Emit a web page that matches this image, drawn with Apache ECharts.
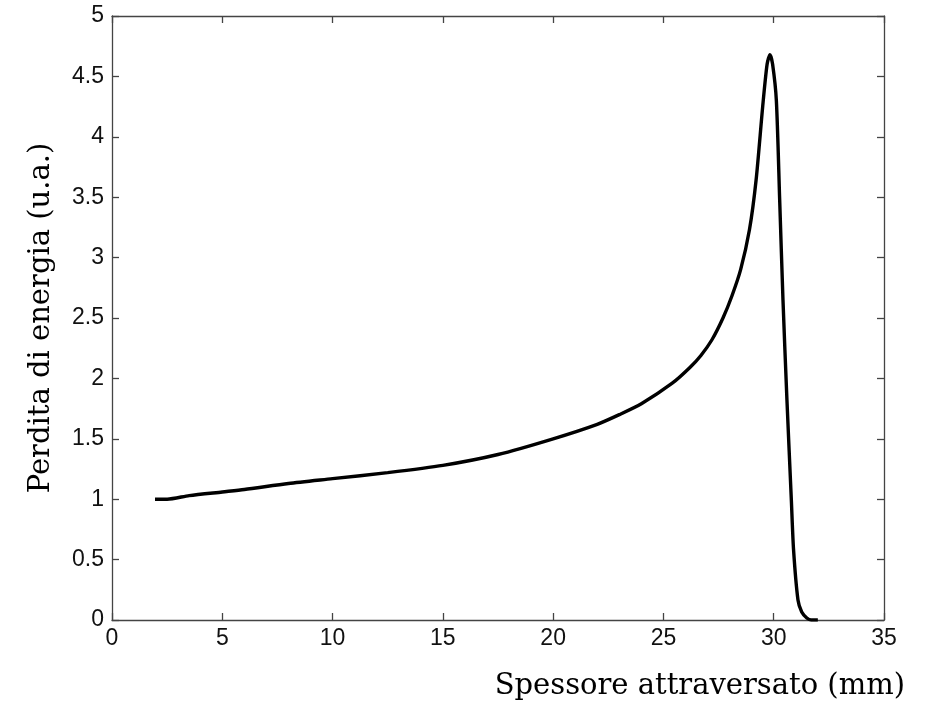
<!DOCTYPE html>
<html>
<head>
<meta charset="utf-8">
<script src="https://cdn.jsdelivr.net/npm/echarts@6/dist/echarts.min.js"></script>
<style>
  html, body { margin: 0; padding: 0; background: #fff; }
  #main { width: 925px; height: 708px; }
</style>
</head>
<body>
<div id="main"></div>
<script>
// spessore (mm) e perdita di energia (u.a.)
const thickness = [1.95, 2.5, 3.5, 5, 6, 8, 10, 12.5, 15, 17.5, 20, 22, 23, 24, 25.4, 26.2, 26.7, 27.2, 27.7, 28.1, 28.5, 28.9, 29.2, 29.5, 29.7, 29.83, 29.95, 30.12, 30.27, 30.42, 30.6, 30.8, 30.9, 31.1, 31.27, 31.5, 31.7, 32.0];
const energyLoss = [1.0, 1.0, 1.03, 1.06, 1.08, 1.13, 1.17, 1.22, 1.28, 1.37, 1.5, 1.62, 1.7, 1.79, 1.96, 2.09, 2.19, 2.32, 2.5, 2.68, 2.9, 3.23, 3.64, 4.25, 4.6, 4.68, 4.6, 4.3, 3.48, 2.65, 1.82, 0.99, 0.58, 0.165, 0.066, 0.017, 0.0, 0.0];
const xTicks = { min: 0, max: 35, step: 5 };
const yTicks = { min: 0, max: 5, step: 0.5 };

const points = thickness.map((x, i) => [x, energyLoss[i]]);

const chart = echarts.init(document.getElementById('main'));

const tickFont = { color: '#111', fontSize: 23, fontFamily: 'Liberation Sans, Arial, sans-serif' };
const lineStyle = { color: '#444', width: 1.3 };
const titleFont = { fontFamily: 'DejaVu Serif, serif', fontSize: 29, color: '#000' };

chart.setOption({
  animation: false,
  grid: { left: 112, top: 16, width: 772, height: 604 },
  xAxis: [
    {
      type: 'value', min: xTicks.min, max: xTicks.max, interval: xTicks.step,
      axisLine: { onZero: false, lineStyle },
      axisTick: { inside: true, length: 7, lineStyle },
      axisLabel: Object.assign({ margin: 7 }, tickFont),
      splitLine: { show: false },
      name: 'Spessore attraversato (mm)',
      nameLocation: 'end',
      nameGap: 21,
      nameTextStyle: Object.assign({ align: 'right', verticalAlign: 'top', padding: [52, 0, 0, 0] }, titleFont)
    },
    {
      type: 'value', position: 'top', min: xTicks.min, max: xTicks.max, interval: xTicks.step,
      axisLine: { onZero: false, lineStyle },
      axisTick: { inside: true, length: 7, lineStyle },
      axisLabel: { show: false },
      splitLine: { show: false }
    }
  ],
  yAxis: [
    {
      type: 'value', min: yTicks.min, max: yTicks.max, interval: yTicks.step,
      axisLine: { show: true, onZero: false, lineStyle },
      axisTick: { show: true, inside: true, length: 7, lineStyle },
      axisLabel: Object.assign({ margin: 8 }, tickFont),
      splitLine: { show: false },
      name: 'Perdita di energia (u.a.)',
      nameLocation: 'middle',
      nameGap: 56,
      nameTextStyle: titleFont
    },
    {
      type: 'value', position: 'right', min: yTicks.min, max: yTicks.max, interval: yTicks.step,
      axisLine: { show: true, onZero: false, lineStyle },
      axisTick: { show: true, inside: true, length: 7, lineStyle },
      axisLabel: { show: false },
      splitLine: { show: false }
    }
  ],
  series: [
    {
      type: 'line',
      data: points,
      showSymbol: false,
      smooth: 0.25,
      lineStyle: { color: '#000', width: 3.4 }
    }
  ]
});
</script>
</body>
</html>
